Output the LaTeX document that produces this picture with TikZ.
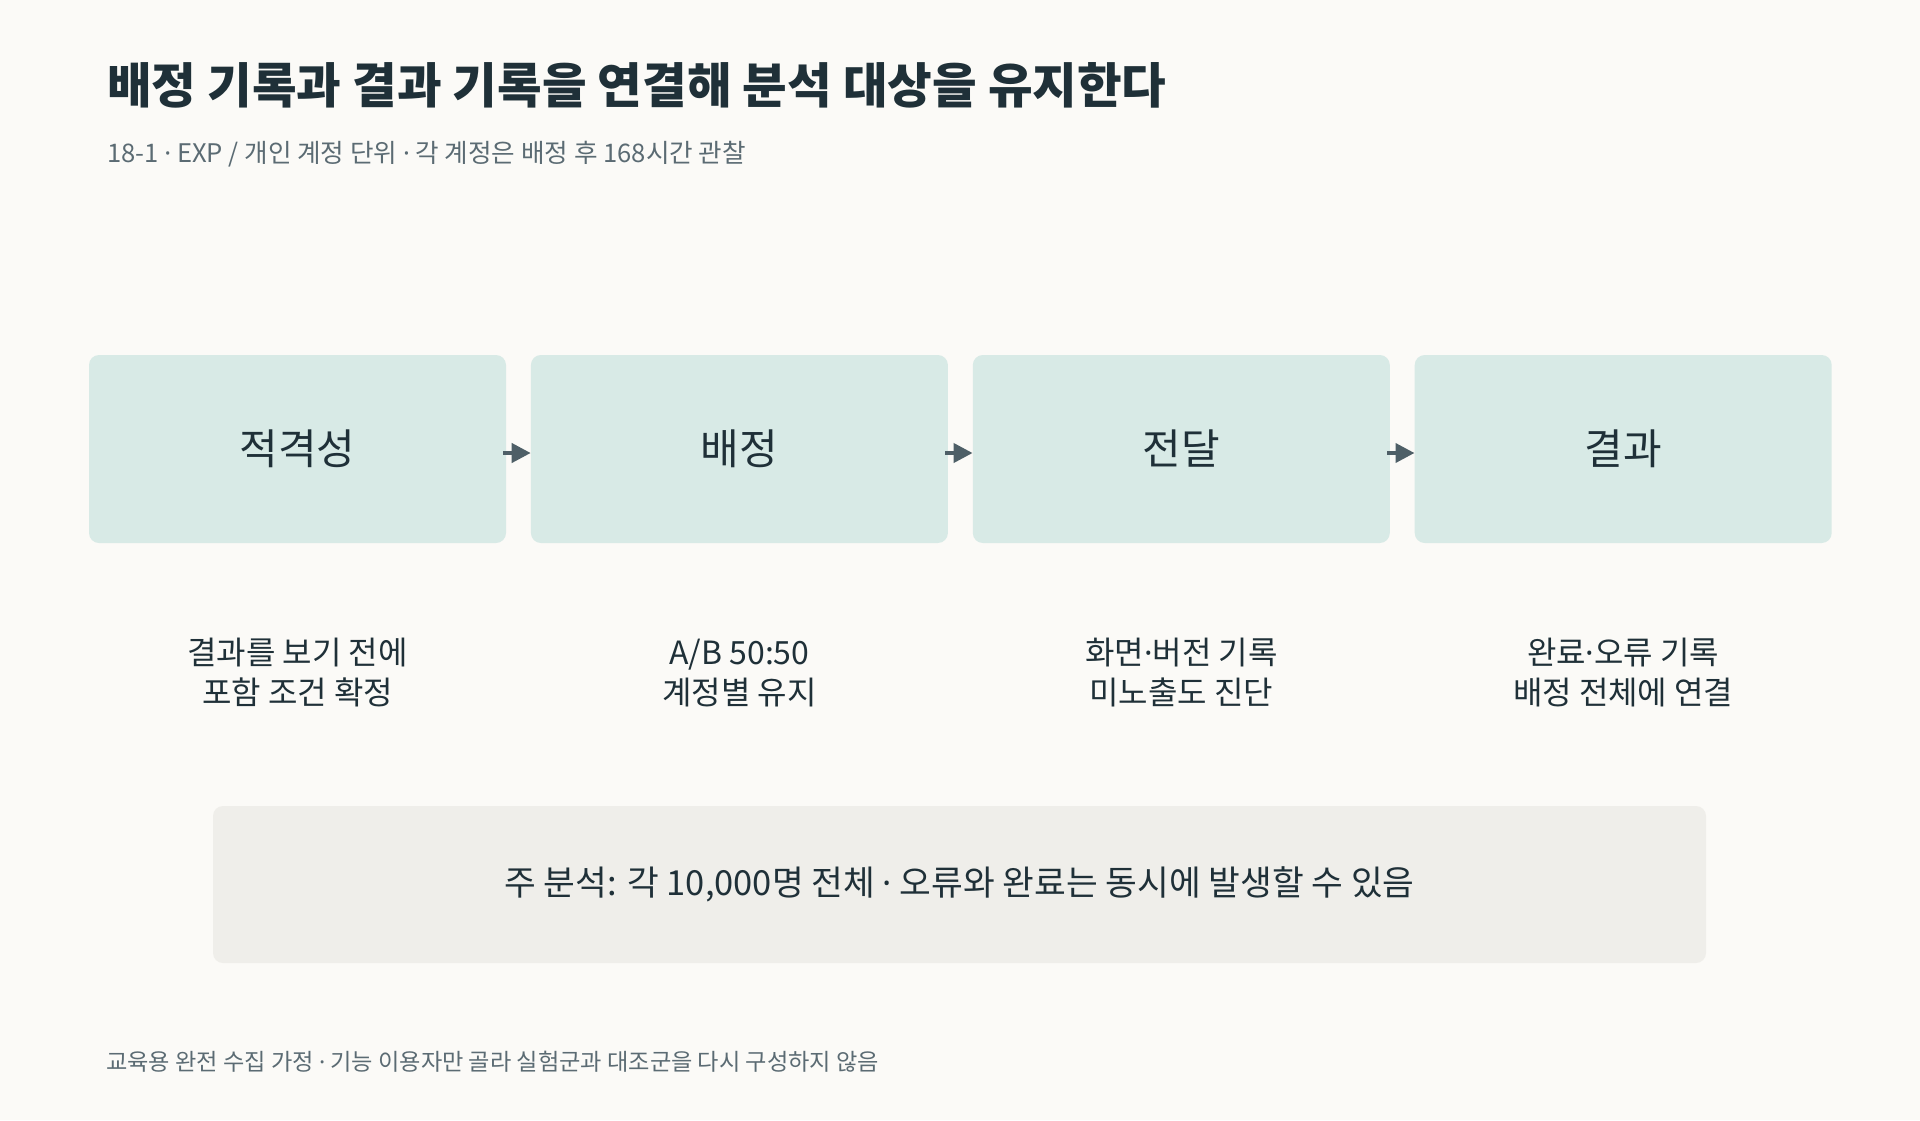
\documentclass[tikz,border=0pt]{standalone}
\usepackage{fontspec}
\setmainfont{Noto Sans CJK KR}
\newfontfamily\dotfont{Noto Sans}
\newcommand\cdotsep{{\dotfont ·}}
\usetikzlibrary{positioning,arrows.meta}
\definecolor{bgcol}{HTML}{FBFAF7}
\definecolor{inkdark}{HTML}{1F3038}
\definecolor{inkgray}{HTML}{5B6B73}
\definecolor{stagefill}{HTML}{D8EAE6}
\definecolor{notefill}{HTML}{EFEEEA}
\definecolor{arrowcol}{HTML}{4E5F67}
\begin{document}
\begin{tikzpicture}[x=1pt, y=-1pt,
    stage/.style={fill=stagefill, rounded corners=10pt, minimum width=417pt, minimum height=188pt, inner sep=0pt, text=inkdark, font=\fontsize{42}{50}\selectfont},
    stagenote/.style={align=center, text=inkdark, font=\fontsize{32}{40}\selectfont},
    flow/.style={-{Triangle[length=19pt,width=19pt]}, line width=4pt, draw=arrowcol, shorten <=-3pt}]
        \fill[bgcol] (0,0) rectangle (1920,1120);

        \node (title) at (107,85) [anchor=west, inner sep=0pt, text=inkdark, font=\fontsize{48.5}{58}\selectfont\bfseries] {배정 기록과 결과 기록을 연결해 분석 대상을 유지한다};
        \node (subtitle) at (107,154) [anchor=west, inner sep=0pt, text=inkgray, font=\fontsize{25.6}{30}\selectfont] {18-1 \cdotsep{} EXP / 개인 계정 단위 \cdotsep{} 각 계정은 배정 후 168시간 관찰};

        \node (elig) at (297.5,449) [stage] {적격성};
        \node (assign) [stage, right=24.5pt of elig] {배정};
        \node (deliv) [stage, right=24.5pt of assign] {전달};
        \node (outc) [stage, right=24.5pt of deliv] {결과};

        \draw[flow] ([yshift=-4pt]elig.east) -- ([yshift=-4pt]assign.west);
        \draw[flow] ([yshift=-4pt]assign.east) -- ([yshift=-4pt]deliv.west);
        \draw[flow] ([yshift=-4pt]deliv.east) -- ([yshift=-4pt]outc.west);

        \node (elignote) at (elig |- 0,673) [stagenote] {결과를 보기 전에\\포함 조건 확정};
        \node (assignnote) at (assign |- 0,673) [stagenote] {A/B 50:50\\계정별 유지};
        \node (delivnote) at (deliv |- 0,673) [stagenote] {화면\cdotsep 버전 기록\\미노출도 진단};
        \node (outcnote) at (outc |- 0,673) [stagenote] {완료\cdotsep 오류 기록\\배정 전체에 연결};

        \node (mainbox) at (959.5,884.5) [fill=notefill, rounded corners=10pt, minimum width=1493pt, minimum height=157pt, text=inkdark, font=\fontsize{34.5}{40}\selectfont] {주 분석: 각 10,000명 전체 \cdotsep{} 오류와 완료는 동시에 발생할 수 있음};

        \node (footer) at (106,1062) [anchor=west, inner sep=0pt, text=inkgray, font=\fontsize{23.2}{28}\selectfont] {교육용 완전 수집 가정 \cdotsep{} 기능 이용자만 골라 실험군과 대조군을 다시 구성하지 않음};
      \end{tikzpicture}
\end{document}
